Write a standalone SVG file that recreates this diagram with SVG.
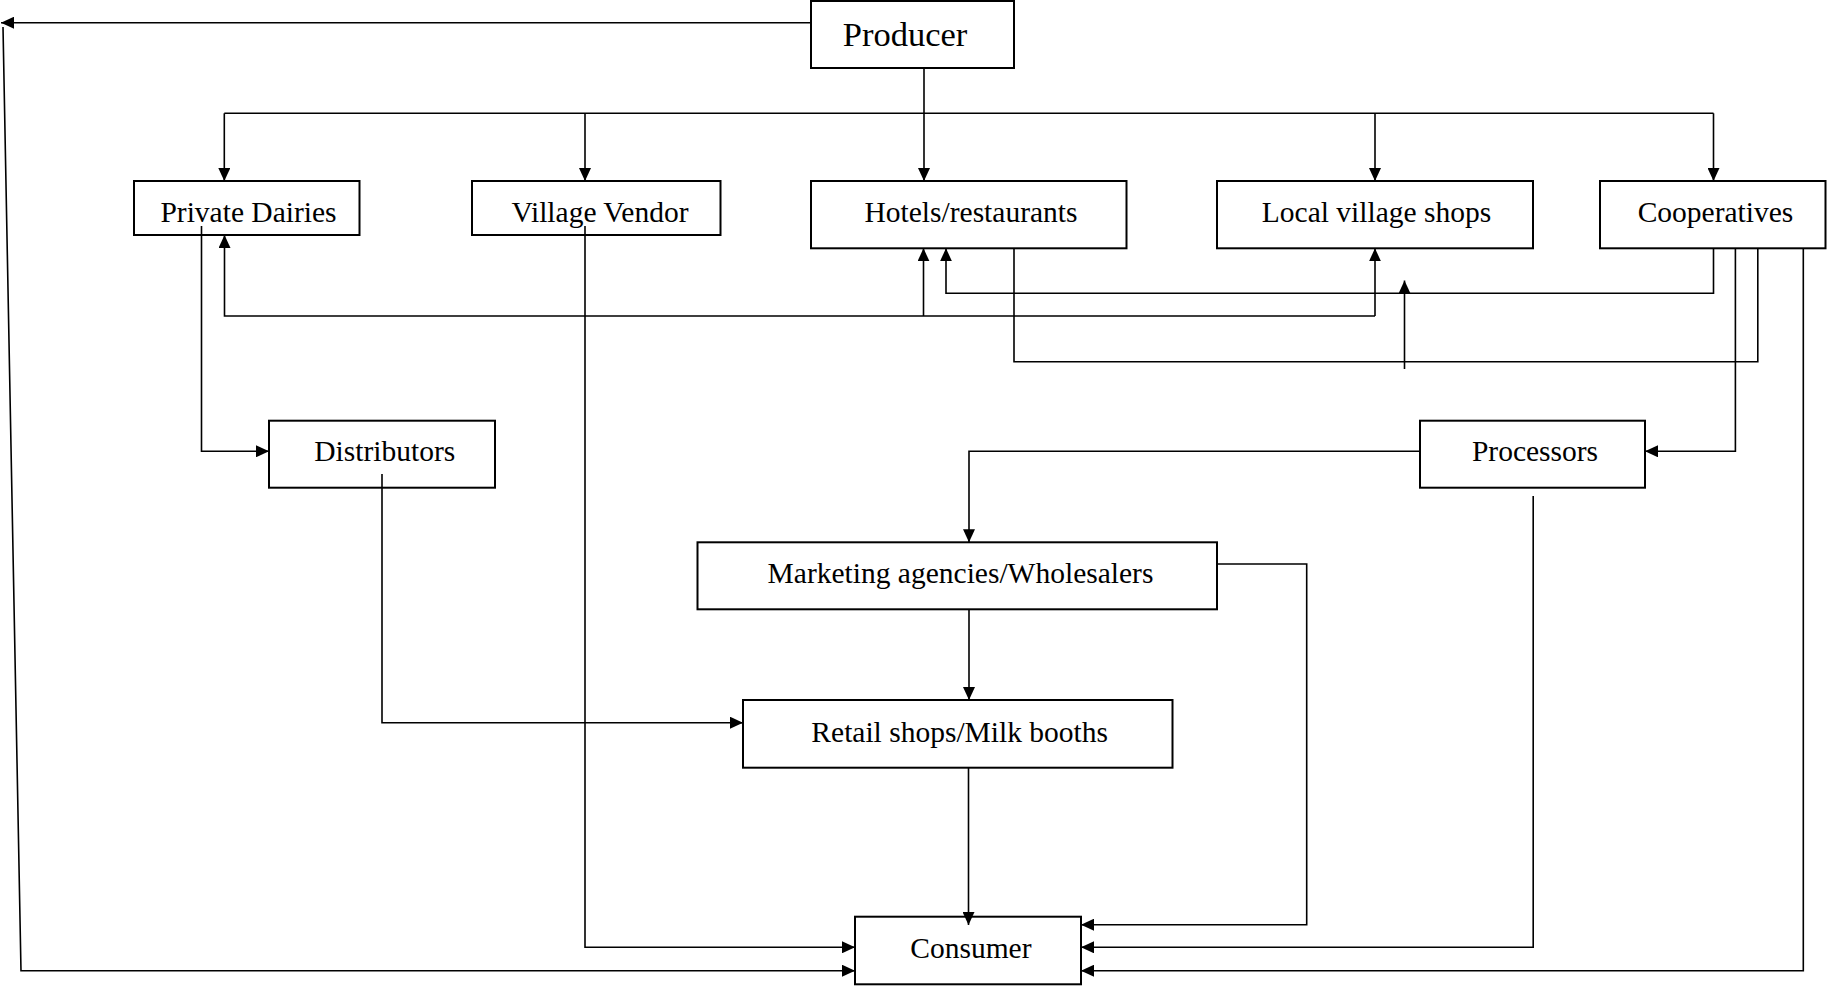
<svg xmlns="http://www.w3.org/2000/svg" width="1827" height="986" viewBox="0 0 1827 986">
<style>
.box{fill:#fff;stroke:#000;stroke-width:2}
.lbl{font-family:"Liberation Serif","Times New Roman",serif;font-size:29.5px;fill:#000;text-anchor:middle}
.big{font-size:34.5px}
.c{fill:none;stroke:#000;stroke-width:1.6}
.a{marker-end:url(#ah)}
</style>
<defs>
<marker id="ah" markerUnits="userSpaceOnUse" markerWidth="13" markerHeight="12" refX="13" refY="6" orient="auto">
<path d="M0,0 L13,6 L0,12 z" fill="#000"/>
</marker>
</defs>
<rect width="1827" height="986" fill="#fff"/>
<g id="producer"><rect class="box" x="811" y="1" width="203" height="67"/><text class="lbl big" x="905" y="46">Producer</text></g>
<g id="private-dairies"><rect class="box" x="134" y="181" width="225.5" height="54"/><text class="lbl" x="248.5" y="221.7">Private Dairies</text></g>
<g id="village-vendor"><rect class="box" x="472" y="181" width="248.5" height="54"/><text class="lbl" x="600" y="221.7">Village Vendor</text></g>
<g id="hotels"><rect class="box" x="811" y="181" width="315.5" height="67.3"/><text class="lbl" x="971" y="221.7">Hotels/restaurants</text></g>
<g id="local-shops"><rect class="box" x="1217" y="181" width="316" height="67.3"/><text class="lbl" x="1376.5" y="221.7">Local village shops</text></g>
<g id="cooperatives"><rect class="box" x="1600" y="181" width="225.5" height="67.3"/><text class="lbl" x="1715.5" y="221.7">Cooperatives</text></g>
<g id="distributors"><rect class="box" x="269" y="420.7" width="226" height="67"/><text class="lbl" x="384.8" y="461">Distributors</text></g>
<g id="processors"><rect class="box" x="1420" y="420.7" width="225" height="67"/><text class="lbl" x="1535" y="461">Processors</text></g>
<g id="marketing"><rect class="box" x="697.5" y="542.3" width="519.5" height="67"/><text class="lbl" x="960.5" y="582.5">Marketing agencies/Wholesalers</text></g>
<g id="retail"><rect class="box" x="743" y="700" width="429.5" height="67.7"/><text class="lbl" x="959.7" y="741.7">Retail shops/Milk booths</text></g>
<g id="consumer"><rect class="box" x="855" y="916.7" width="226" height="67.6"/><text class="lbl" x="970.9" y="957.5">Consumer</text></g>
<g id="connectors">
<path class="c a" d="M811,22.7 H1"/>
<path class="c a" d="M3,27 L21,970.7 H855"/>
<path class="c a" d="M924,68 V181"/>
<path class="c" d="M224.3,113.3 H1713.5"/>
<path class="c a" d="M224.3,113.3 V181"/>
<path class="c a" d="M585,113.3 V181"/>
<path class="c a" d="M1375,113.3 V181"/>
<path class="c a" d="M1713.5,113.3 V181"/>
<path class="c a" d="M201.5,226 V451.3 H269"/>
<path class="c a" d="M1375,316 H224.5 V235"/>
<path class="c a" d="M923.5,316 V248.3"/>
<path class="c a" d="M1375,316 V248.3"/>
<path class="c a" d="M1713.5,248.3 V293.3 H946 V248.3"/>
<path class="c a" d="M1404.5,369 V280.5"/>
<path class="c" d="M1014,248.3 V361.7 H1757.8 V248.3"/>
<path class="c a" d="M1735.4,248.3 V451.3 H1645"/>
<path class="c a" d="M1803.3,248.3 V970.7 H1081"/>
<path class="c a" d="M1419.7,451.3 H969 V542.3"/>
<path class="c a" d="M1533.2,496 V947.3 H1081"/>
<path class="c a" d="M1217,564 H1306.7 V924.7 H1081"/>
<path class="c a" d="M969,609.3 V700"/>
<path class="c a" d="M382,474 V722.7 H743"/>
<path class="c a" d="M585,226 V947.3 H855"/>
<path class="c a" d="M968.5,767.7 V925"/>
</g>
</svg>
